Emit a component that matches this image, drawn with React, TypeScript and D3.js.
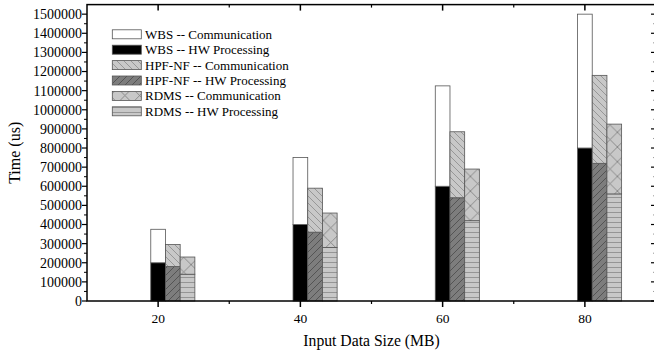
import * as d3 from 'd3';

// input data size (MB)
const sizes = [20, 40, 60, 80];

// time in microseconds, stacked: hw processing at the bottom, communication on top
const wbsHw = [200000, 400000, 600000, 800000];
const wbsComm = [175000, 350000, 525000, 700000];
const hpfHw = [180000, 360000, 540000, 720000];
const hpfComm = [115000, 230000, 345000, 460000];
const rdmsHw = [140000, 280000, 420000, 560000];
const rdmsComm = [90000, 180000, 270000, 365000];

const yTicks = d3.range(0, 1500001, 100000);
const yMinorTicks = d3.range(50000, 1500000, 100000);
const xTicks = [20, 40, 60, 80];
const xMinorTicks = [30, 50, 70];

const legendLabels = [
  'WBS -- Communication',
  'WBS -- HW Processing',
  'HPF-NF -- Communication',
  'HPF-NF -- HW Processing',
  'RDMS -- Communication',
  'RDMS -- HW Processing',
];

const W = 654;
const H = 356;
const FONT = "'Liberation Serif', 'Times New Roman', Times, serif";

export default function App() {
  const x = d3.scaleLinear().domain([10, 90]).range([87, 656]);
  const y = d3.scaleLinear().domain([0, 1550000]).range([301, 4.6]);
  const bw = 14.7;

  const fills = [
    'url(#wbsComm)',
    'url(#wbsHw)',
    'url(#hpfComm)',
    'url(#hpfHw)',
    'url(#rdmsComm)',
    'url(#rdmsHw)',
  ];

  const series = [
    { hw: wbsHw, comm: wbsComm, hwFill: fills[1], commFill: fills[0] },
    { hw: hpfHw, comm: hpfComm, hwFill: fills[3], commFill: fills[2] },
    { hw: rdmsHw, comm: rdmsComm, hwFill: fills[5], commFill: fills[4] },
  ];

  const left = x(10);
  const right = x(90);
  const top = y(1550000);
  const bottom = y(0);

  return (
    <>
      <style>{'body{margin:0}'}</style>
      <svg width={W} height={H} style={{ display: 'block', background: '#fff', fontFamily: FONT }}>
        <defs>
          <pattern id="wbsComm" patternUnits="userSpaceOnUse" width="4" height="4">
            <rect width="4" height="4" fill="#fff" />
          </pattern>
          <pattern id="wbsHw" patternUnits="userSpaceOnUse" width="4" height="4">
            <rect width="4" height="4" fill="#000" />
          </pattern>
          <pattern id="hpfComm" patternUnits="userSpaceOnUse" width="7" height="7">
            <rect width="7" height="7" fill="#c8c8c8" />
            <path d="M-1,-1 L8,8 M-1,6 L1,8 M6,-1 L8,1" stroke="#8a8a8a" strokeWidth="0.8" />
          </pattern>
          <pattern id="hpfHw" patternUnits="userSpaceOnUse" width="7" height="7">
            <rect width="7" height="7" fill="#7d7d7d" />
            <path d="M-1,8 L8,-1 M-1,1 L1,-1 M6,8 L8,6" stroke="#4a4a4a" strokeWidth="0.8" />
          </pattern>
          <pattern id="rdmsComm" patternUnits="userSpaceOnUse" width="14.7" height="14.7" x="0" y="0">
            <rect width="14.7" height="14.7" fill="#c8c8c8" />
            <path d="M0,0 L14.7,14.7 M0,14.7 L14.7,0" stroke="#7a7a7a" strokeWidth="0.8" />
          </pattern>
          <pattern id="rdmsHw" patternUnits="userSpaceOnUse" width="5" height="5">
            <rect width="5" height="5" fill="#c8c8c8" />
            <path d="M0,2.5 L5,2.5" stroke="#888" strokeWidth="0.8" />
          </pattern>
        </defs>

        {/* bars */}
        {sizes.map((s, i) =>
          series.map((ser, j) => {
            const bx = x(s) - bw / 2 + j * bw;
            const hwTop = y(ser.hw[i]);
            const total = y(ser.hw[i] + ser.comm[i]);
            return (
              <g key={`${s}-${j}`}>
                <rect x={bx} y={hwTop} width={bw} height={bottom - hwTop} fill={ser.hwFill} stroke="#555" strokeWidth={0.8} />
                <rect x={bx} y={total} width={bw} height={hwTop - total} fill={ser.commFill} stroke="#555" strokeWidth={0.8} />
              </g>
            );
          })
        )}

        {/* frame */}
        <rect x={left} y={top} width={right - left} height={bottom - top} fill="none" stroke="#000" strokeWidth={1.5} />

        {/* y ticks */}
        {yTicks.map((t) => (
          <g key={`y${t}`}>
            <line x1={left - 5} x2={left} y1={y(t)} y2={y(t)} stroke="#000" strokeWidth={1.2} />
            <line x1={right - 5} x2={right} y1={y(t)} y2={y(t)} stroke="#000" strokeWidth={1.2} />
            <text x={left - 5} y={y(t)} dy="0.35em" textAnchor="end" fontSize={14} fill="#000">
              {t}
            </text>
          </g>
        ))}
        {yMinorTicks.map((t) => (
          <g key={`ym${t}`}>
            <line x1={left - 3} x2={left} y1={y(t)} y2={y(t)} stroke="#000" strokeWidth={1} />
            <line x1={right - 3} x2={right} y1={y(t)} y2={y(t)} stroke="#999" strokeWidth={1} />
          </g>
        ))}

        {/* x ticks */}
        {xTicks.map((t) => (
          <g key={`x${t}`}>
            <line x1={x(t)} x2={x(t)} y1={bottom} y2={bottom + 6} stroke="#000" strokeWidth={1.5} />
            <line x1={x(t)} x2={x(t)} y1={top} y2={top + 6} stroke="#000" strokeWidth={1.5} />
            <text x={x(t)} y={323} textAnchor="middle" fontSize={13.5} fill="#000">
              {t}
            </text>
          </g>
        ))}
        {xMinorTicks.map((t) => (
          <g key={`xm${t}`}>
            <line x1={x(t)} x2={x(t)} y1={bottom} y2={bottom + 3} stroke="#000" strokeWidth={1.2} />
            <line x1={x(t)} x2={x(t)} y1={top} y2={top + 3} stroke="#000" strokeWidth={1.2} />
          </g>
        ))}

        {/* axis titles */}
        <text x={371.5} y={346} textAnchor="middle" fontSize={15.7} fill="#000">
          Input Data Size (MB)
        </text>
        <text transform={`translate(20,${(top + bottom) / 2}) rotate(-90)`} textAnchor="middle" fontSize={16} fill="#000">
          Time (us)
        </text>

        {/* legend */}
        {legendLabels.map((lab, i) => {
          const ly = 34.3 + i * 15.4;
          return (
            <g key={lab}>
              <rect x={112.3} y={ly - 4.5} width={29} height={9} fill={fills[i]} stroke="#555" strokeWidth={0.8} />
              <text x={145} y={ly} dy="0.35em" fontSize={13} fill="#000">
                {lab}
              </text>
            </g>
          );
        })}
      </svg>
    </>
  );
}
